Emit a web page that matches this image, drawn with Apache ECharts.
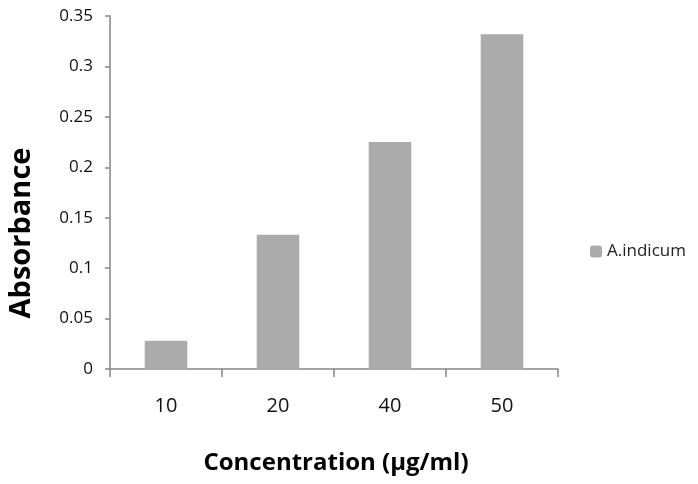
<!DOCTYPE html>
<html>
<head>
<meta charset="utf-8">
<script src="https://cdn.jsdelivr.net/npm/echarts@6/dist/echarts.min.js"></script>
<style>
html,body{margin:0;padding:0;background:#fff;}
#main{width:698px;height:484px;}
</style>
</head>
<body>
<div id="main"></div>
<script>
var categories = ['10', '20', '40', '50'];
var absorbance = [0.028, 0.133, 0.225, 0.332];
var yTicks = [0, 0.05, 0.1, 0.15, 0.2, 0.25, 0.3, 0.35];

var chart = echarts.init(document.getElementById('main'));
var axisColor = '#868686';
var font = '"Open Sans", "Liberation Sans", sans-serif';

var option = {
    animation: false,
    textStyle: { fontFamily: font },
    legend: {
        orient: 'vertical',
        left: 590,
        top: 243,
        padding: 0,
        itemWidth: 12,
        itemHeight: 12,
        itemGap: 5,
        textStyle: { fontSize: 17, color: '#222', fontFamily: font },
        data: ['A.indicum']
    },
    grid: { left: 110, right: 140, top: 16, bottom: 115, outerBoundsMode: 'none', containLabel: false },
    xAxis: {
        type: 'category',
        data: categories,
        axisLine: { lineStyle: { color: axisColor, width: 1.5 } },
        axisTick: { show: true, length: 8, lineStyle: { color: axisColor, width: 1.5 } },
        axisLabel: { fontSize: 20, color: '#111', margin: 27, fontFamily: font }
    },
    yAxis: {
        type: 'value',
        min: 0,
        max: 0.35,
        interval: 0.05,
        axisLine: { show: true, lineStyle: { color: axisColor, width: 1.5 } },
        axisTick: { show: true, length: 5, lineStyle: { color: axisColor, width: 1.5 } },
        splitLine: { show: false },
        axisLabel: {
            fontSize: 17, color: '#111', margin: 17, fontFamily: font,
            formatter: function (v) { return String(parseFloat(v.toFixed(2))); }
        }
    },
    graphic: [
        {
            type: 'text',
            x: 22,
            y: 233,
            rotation: Math.PI / 2,
            style: {
                text: 'Absorbance',
                font: 'bold 29px ' + font,
                fill: '#000',
                align: 'center',
                verticalAlign: 'middle'
            }
        },
        {
            type: 'text',
            x: 336,
            y: 463,
            style: {
                text: 'Concentration (µg/ml)',
                font: 'bold 24px ' + font,
                fill: '#000',
                align: 'center',
                verticalAlign: 'middle'
            }
        }
    ],
    series: [{
        name: 'A.indicum',
        type: 'bar',
        data: absorbance,
        barWidth: '38%',
        itemStyle: { color: '#ababab' }
    }]
};

chart.setOption(option);
</script>
</body>
</html>
